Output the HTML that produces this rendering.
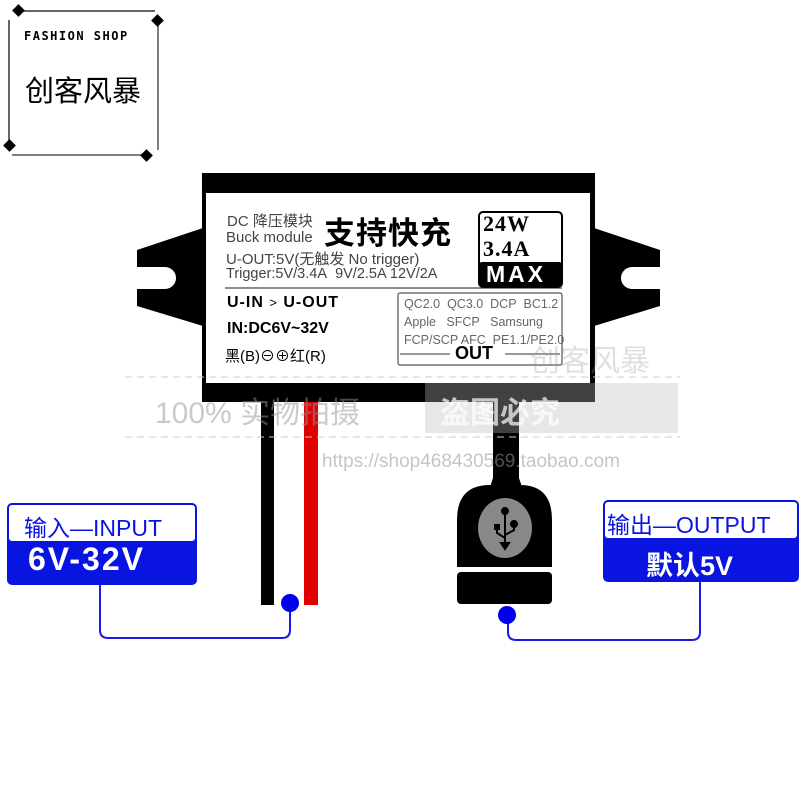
<!DOCTYPE html>
<html><head><meta charset="utf-8"><style>
body{margin:0;background:#fff;width:800px;height:800px;overflow:hidden;position:relative;font-family:"Liberation Sans","Noto Sans CJK SC",sans-serif}
.a{position:absolute;white-space:nowrap}
</style></head><body>
<svg class="a" style="left:0;top:0" width="800" height="800" viewBox="0 0 800 800">
<line x1="19" y1="11" x2="155" y2="11" stroke="#333" stroke-width="1.5"/>
<line x1="158" y1="20" x2="158" y2="150" stroke="#555" stroke-width="1.5"/>
<line x1="9" y1="20" x2="9" y2="146" stroke="#333" stroke-width="1.5"/>
<line x1="12" y1="155" x2="146" y2="155" stroke="#555" stroke-width="1.5"/>
<rect x="14" y="6" width="9" height="9" transform="rotate(45 18.5 10.5)" fill="#000"/>
<rect x="153" y="16" width="9" height="9" transform="rotate(45 157.5 20.5)" fill="#000"/>
<rect x="5" y="141" width="9" height="9" transform="rotate(45 9.5 145.5)" fill="#000"/>
<rect x="142" y="151" width="9" height="9" transform="rotate(45 146.5 155.5)" fill="#000"/>
<path d="M203 228 L137 250 L137 306 L203 326 Z" fill="#000"/>
<path d="M594 228 L660 250 L660 306 L594 326 Z" fill="#000"/>
<path d="M136 267 L165 267 A11 11 0 0 1 165 289 L136 289 Z" fill="#fff"/>
<path d="M661 267 L632 267 A11 11 0 0 0 632 289 L661 289 Z" fill="#fff"/>
<rect x="261" y="395" width="13" height="210" fill="#000"/>
<rect x="304" y="395" width="14" height="210" fill="#e00000"/>
<path d="M493 395 L519 395 L519 478 L522 487 L490 487 L493 478Z" fill="#000"/>
<rect x="202" y="173" width="393" height="229" fill="#000"/>
<rect x="206" y="193" width="384" height="190" fill="#fff"/>
<line x1="225" y1="288" x2="562" y2="288" stroke="#666" stroke-width="1.5"/>
<rect x="479" y="212" width="83" height="75" rx="4" fill="#fff" stroke="#000" stroke-width="2"/>
<rect x="479" y="262" width="83" height="25" rx="3" fill="#000"/>
<rect x="398" y="293" width="164" height="72" rx="2" fill="none" stroke="#555" stroke-width="1.2"/>
<line x1="400" y1="354" x2="450" y2="354" stroke="#333"/>
<line x1="505" y1="354" x2="560" y2="354" stroke="#333"/>
<path d="M457 567 L457 520 Q457 485 490 485 L520 485 Q552 485 552 520 L552 567 Z" fill="#000"/>
<rect x="457" y="572" width="95" height="32" rx="4" fill="#000"/>
<ellipse cx="505" cy="528" rx="27" ry="30" fill="#888"/>
<g stroke="#000" stroke-width="2" fill="#000">
<line x1="505" y1="512" x2="505" y2="545"/><circle cx="505" cy="511" r="3"/>
<path d="M505 535 L514 530 L514 525" fill="none"/><circle cx="514" cy="524" r="3"/>
<path d="M505 538 L497 533 L497 528" fill="none"/><rect x="495" y="525" width="4" height="4"/>
<path d="M501 543 L509 543 L505 549Z"/>
</g>
<path d="M100 585 L100 630 Q100 638 108 638 L282 638 Q290 638 290 630 L290 603" fill="none" stroke="#1a1ae6" stroke-width="2"/>
<circle cx="290" cy="603" r="9" fill="#0000ee"/>
<path d="M508 616 L508 632 Q508 640 516 640 L692 640 Q700 640 700 632 L700 582" fill="none" stroke="#1a1ae6" stroke-width="2"/>
<circle cx="507" cy="615" r="9" fill="#0000ee"/>
<rect x="7" y="503" width="190" height="82" rx="5" fill="#0a14e0"/>
<rect x="9" y="505" width="186" height="36" rx="3" fill="#fff"/>
<rect x="603" y="500" width="196" height="82" rx="5" fill="#0a14e0"/>
<rect x="605" y="502" width="192" height="36" rx="3" fill="#fff"/>
<line x1="125" y1="377" x2="680" y2="377" stroke="#ccc" stroke-dasharray="7 5"/>
<line x1="125" y1="437" x2="680" y2="437" stroke="#ccc" stroke-dasharray="7 5"/>
<rect x="425" y="383" width="253" height="50" fill="#bbb" opacity="0.35"/>
</svg>
<div class="a" style="left:24px;top:29px;font-size:12px;font-weight:bold;letter-spacing:1.5px;font-family:'DejaVu Sans Mono',monospace">FASHION SHOP</div>
<div class="a" style="left:25px;top:68px;font-size:29px">创客风暴</div>

<div class="a" style="left:227px;top:210px;font-size:15px;color:#444">DC 降压模块</div>
<div class="a" style="left:226px;top:229px;font-size:15px;color:#444">Buck module</div>
<div class="a" style="left:324px;top:208px;font-size:31px;font-weight:bold;letter-spacing:1px">支持快充</div>
<div class="a" style="left:226px;top:248px;font-size:15px;color:#444">U-OUT:5V(无触发 No trigger)</div>
<div class="a" style="left:226px;top:266px;font-size:14.5px;color:#444">Trigger:5V/3.4A&nbsp; 9V/2.5A 12V/2A</div>
<div class="a" style="left:483px;top:211px;font-size:22px;font-weight:bold;font-family:'Liberation Serif',serif;line-height:25px;letter-spacing:1px">24W<br>3.4A</div>
<div class="a" style="left:486px;top:261px;font-size:23px;font-weight:bold;color:#fff;letter-spacing:3px">MAX</div>
<div class="a" style="left:227px;top:294px;font-size:16px;font-weight:bold;letter-spacing:1px">U-IN <span style="font-weight:normal;font-size:13px">&gt;</span> U-OUT</div>
<div class="a" style="left:227px;top:320px;font-size:16px;font-weight:bold">IN:DC6V~32V</div>
<div class="a" style="left:225px;top:345px;font-size:15px">黑(B)⊖⊕红(R)</div>
<div class="a" style="left:404px;top:295px;font-size:12.5px;color:#666;line-height:18px">QC2.0&nbsp; QC3.0&nbsp; DCP&nbsp; BC1.2<br>Apple&nbsp;&nbsp; SFCP&nbsp;&nbsp; Samsung<br>FCP/SCP AFC&nbsp; PE1.1/PE2.0</div>
<div class="a" style="left:455px;top:343px;font-size:18px;font-weight:bold">OUT</div>

<div class="a" style="left:155px;top:388px;font-size:30px;color:rgba(150,150,150,0.5)">100% 实物拍摄</div>
<div class="a" style="left:440px;top:388px;font-size:30px;color:rgba(255,255,255,0.7);font-weight:bold">盗图必究</div>
<div class="a" style="left:530px;top:336px;font-size:30px;color:rgba(150,150,150,0.3)">创客风暴</div>
<div class="a" style="left:322px;top:451px;font-size:19px;color:rgba(150,150,150,0.55)">https://shop468430569.taobao.com</div>

<div class="a" style="left:24px;top:509px;font-size:23px;color:#0a14e0">输入—INPUT</div>
<div class="a" style="left:28px;top:541px;font-size:32px;color:#fff;font-weight:bold;letter-spacing:2px">6V-32V</div>
<div class="a" style="left:607px;top:506px;font-size:23px;color:#0a14e0">输出—OUTPUT</div>
<div class="a" style="left:646px;top:544px;font-size:27px;color:#fff;font-weight:bold">默认5V</div>
</body></html>
